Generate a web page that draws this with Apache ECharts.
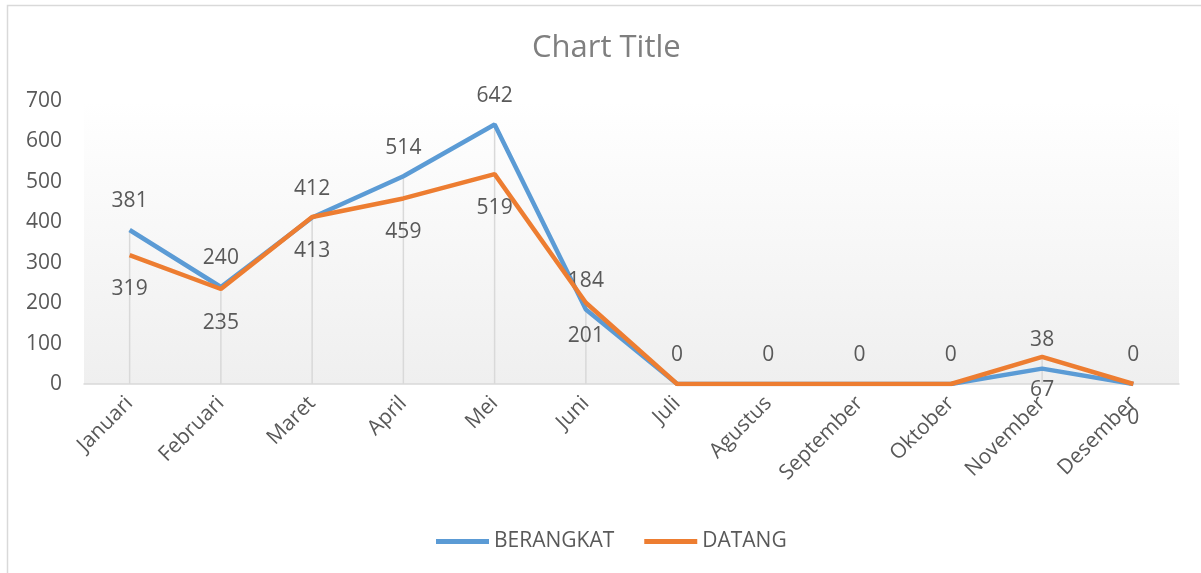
<!DOCTYPE html>
<html>
<head>
<meta charset="utf-8">
<script src="https://cdn.jsdelivr.net/npm/echarts@6/dist/echarts.min.js"></script>
<style>
html,body{margin:0;padding:0;background:#fff;}
#chart{width:1201px;height:573px;}
</style>
</head>
<body>
<div id="chart"></div>
<script>
const categories = ['Januari','Februari','Maret','April','Mei','Juni','Juli','Agustus','September','Oktober','November','Desember'];
const berangkat = [381, 240, 412, 514, 642, 184, 0, 0, 0, 0, 38, 0];
const datang = [319, 235, 413, 459, 519, 201, 0, 0, 0, 0, 67, 0];
const yTicks = [0, 100, 200, 300, 400, 500, 600, 700];
const datangHiddenLabels = [6, 7, 8, 9];

const dropLines = berangkat.map((v, i) => Math.max(v, datang[i]));
const FONT = '"Open Sans", "Noto Sans", sans-serif';
const TXT = '#595959';

const chart = echarts.init(document.getElementById('chart'));
chart.setOption({
  animation: false,
  backgroundColor: '#ffffff',
  textStyle: { fontFamily: FONT },
  graphic: [{
    type: 'rect', left: 5, top: 3, z: -10,
    shape: { width: 1220, height: 600 },
    style: { fill: 'none', stroke: '#d9d9d9', lineWidth: 1.5 }
  }],
  title: {
    text: 'Chart Title', left: 527, top: 28,
    textStyle: { fontFamily: FONT, fontSize: 31, fontWeight: 'normal', color: '#7f7f7f' }
  },
  legend: {
    bottom: 16, left: 431,
    data: ['BERANGKAT', 'DATANG'],
    icon: 'rect', itemWidth: 53, itemHeight: 5, itemGap: 30,
    textStyle: { fontFamily: FONT, fontSize: 21, color: TXT }
  },
  grid: {
    left: 84, right: 22, top: 101, bottom: 189,
    show: true, borderWidth: 0,
    backgroundColor: {
      type: 'linear', x: 0, y: 0, x2: 0, y2: 1,
      colorStops: [{ offset: 0, color: '#ffffff' }, { offset: 1, color: '#efefef' }]
    }
  },
  xAxis: {
    type: 'category', data: categories, boundaryGap: true,
    axisLine: { lineStyle: { color: '#d9d9d9', width: 1.5 } },
    axisTick: { show: false },
    splitLine: { show: false },
    axisLabel: { rotate: 45, margin: 16, fontFamily: FONT, fontSize: 21, color: TXT, interval: 0 }
  },
  yAxis: {
    type: 'value', min: yTicks[0], max: yTicks[yTicks.length - 1], interval: 100,
    axisLine: { show: false }, axisTick: { show: false },
    splitLine: { show: false },
    axisLabel: { margin: 22, fontFamily: FONT, fontSize: 21, color: TXT }
  },
  series: [
    {
      name: 'drop', type: 'bar', data: dropLines, barWidth: 1.5, z: 1,
      itemStyle: { color: '#d9d9d9' }, silent: true, legendHoverLink: false
    },
    {
      name: 'BERANGKAT', type: 'line', data: berangkat, z: 3,
      showSymbol: true, symbol: 'circle', symbolSize: 0.1,
      lineStyle: { color: '#5b9bd5', width: 4.5 },
      itemStyle: { color: '#5b9bd5' },
      label: { show: true, position: 'top', distance: 18, fontFamily: FONT, fontSize: 21, color: TXT }
    },
    {
      name: 'DATANG', type: 'line', data: datang, z: 4,
      showSymbol: true, symbol: 'circle', symbolSize: 0.1,
      lineStyle: { color: '#ed7d31', width: 4.5 },
      itemStyle: { color: '#ed7d31' },
      label: {
        show: true, position: 'bottom', distance: 23, fontFamily: FONT, fontSize: 21, color: TXT,
        formatter: p => datangHiddenLabels.includes(p.dataIndex) ? '' : String(p.value)
      }
    }
  ]
});
</script>
</body>
</html>
